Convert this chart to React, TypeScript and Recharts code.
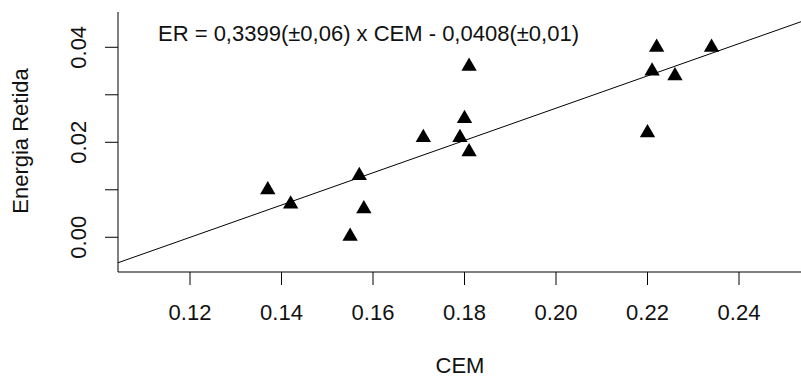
import {
  ScatterChart,
  Scatter,
  XAxis,
  YAxis,
  ReferenceLine,
  Customized,
} from "recharts";

// CEM (x) and Energia Retida (y)
const cem: number[] = [
  0.137, 0.142, 0.155, 0.157, 0.158, 0.171, 0.179, 0.18, 0.181, 0.181, 0.22,
  0.221, 0.222, 0.226, 0.234,
];
const er: number[] = [
  0.01, 0.007, 0.0002, 0.013, 0.006, 0.021, 0.021, 0.025, 0.018, 0.036, 0.022,
  0.035, 0.04, 0.034, 0.04,
];

const xTicks: number[] = [0.12, 0.14, 0.16, 0.18, 0.2, 0.22, 0.24];
const yTicks: number[] = [0, 0.01, 0.02, 0.03, 0.04];
const yLabelled: number[] = [0, 0.02, 0.04];

// fitted line: ER = 0,3399 x CEM - 0,0408
const slope = 0.3399;
const intercept = -0.0408;
const equation = "ER = 0,3399(\u00b10,06) x CEM - 0,0408(\u00b10,01)";

const xDomain: [number, number] = [0.10426, 0.25355];
const yDomain: [number, number] = [-0.00731, 0.04743];

const data = cem.map((c, i) => ({ cem: c, er: er[i] }));

const FONT = "'Liberation Sans', Arial, sans-serif";
const FS = 22;

const Triangle = (props: any) => {
  const { cx, cy } = props;
  const s = 5.7;
  const top = cy - 1.5551 * s;
  const bot = cy + 0.7776 * s;
  const hw = 1.3468 * s;
  return (
    <polygon
      points={`${cx},${top} ${cx + hw},${bot} ${cx - hw},${bot}`}
      fill="#000"
    />
  );
};

const XTick = (props: any) => {
  const { x, y, payload } = props;
  return (
    <text
      x={x}
      y={y + 27}
      dy="0.35em"
      textAnchor="middle"
      fontFamily={FONT}
      fontSize={FS}
      fill="#111"
    >
      {payload.value.toFixed(2)}
    </text>
  );
};

const YTick = (props: any) => {
  const { x, y, payload } = props;
  if (!yLabelled.some((v) => Math.abs(v - payload.value) < 1e-9)) return <g />;
  const cx = x - 27;
  return (
    <text
      x={cx}
      y={y}
      dy="0.35em"
      textAnchor="middle"
      fontFamily={FONT}
      fontSize={FS}
      fill="#111"
      transform={`rotate(-90, ${cx}, ${y})`}
    >
      {payload.value.toFixed(2)}
    </text>
  );
};

const Titles = () => (
  <g fontFamily={FONT} fontSize={FS} fill="#111">
    <text x={158} y={33} dy="0.35em">
      {equation}
    </text>
    <text x={460} y={365.5} dy="0.35em" textAnchor="middle">
      CEM
    </text>
    <text
      x={28}
      y={141}
      textAnchor="middle"
      transform="rotate(-90, 28, 141)"
    >
      Energia Retida
    </text>
  </g>
);

export default function App(): JSX.Element {
  return (
    <div style={{ position: "absolute", left: 0, top: 0, background: "#fff" }}>
      <ScatterChart
        width={801}
        height={376}
        margin={{ top: 12, right: 0, bottom: 0, left: 0 }}
      >
        <XAxis
          type="number"
          dataKey="cem"
          domain={xDomain}
          ticks={xTicks}
          allowDataOverflow
          height={104}
          tickSize={13}
          tickMargin={0}
          axisLine={{ stroke: "#000", strokeWidth: 1 }}
          tickLine={{ stroke: "#000", strokeWidth: 1 }}
          tick={<XTick />}
        />
        <YAxis
          type="number"
          dataKey="er"
          domain={yDomain}
          ticks={yTicks}
          allowDataOverflow
          width={118}
          tickSize={13}
          tickMargin={0}
          axisLine={{ stroke: "#000", strokeWidth: 1 }}
          tickLine={{ stroke: "#000", strokeWidth: 1 }}
          tick={<YTick />}
        />
        <ReferenceLine
          segment={[
            { x: xDomain[0], y: slope * xDomain[0] + intercept },
            { x: xDomain[1], y: slope * xDomain[1] + intercept },
          ]}
          stroke="#000"
          strokeWidth={1}
          ifOverflow="visible"
        />
        <Scatter
          data={data}
          shape={<Triangle />}
          isAnimationActive={false}
        />
        <Customized component={Titles} />
      </ScatterChart>
    </div>
  );
}
